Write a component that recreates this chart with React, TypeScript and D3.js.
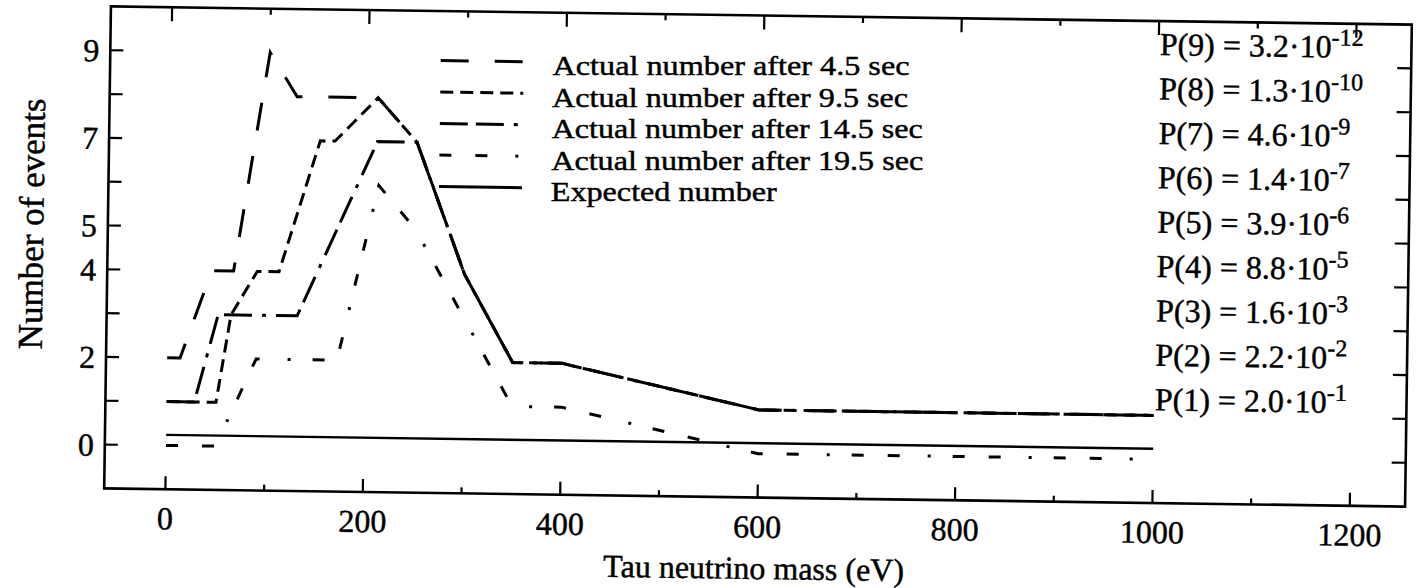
import React from 'react';
import * as d3 from 'd3';

// ---- data ----
const sec45X = [0, 13, 44, 66, 100, 128, 210, 250, 300, 350, 400, 600, 1000];
const sec45Y = [2, 2, 4, 4, 9, 8, 8, 7, 4, 2, 2, 1, 1];

const sec95X = [0, 50, 64, 90, 112, 152, 167, 210, 250, 300, 350, 400, 600, 1000];
const sec95Y = [1, 1, 3, 4, 4, 7, 7, 8, 7, 4, 2, 2, 1, 1];

const sec145X = [0, 28, 51, 131, 210, 250, 300, 350, 400, 600, 1000];
const sec145Y = [1, 1, 3, 3, 7, 7, 4, 2, 2, 1, 1];

const sec195X = [0, 50, 90, 172, 212, 250, 350, 400, 600, 1000];
const sec195Y = [0, 0, 2, 2, 6, 5, 1, 1, 0, 0];

const expectedX = [0, 1000];
const expectedY = [0.24, 0.24];

const legendLabels = [
  'Actual number after 4.5 sec',
  'Actual number after 9.5 sec',
  'Actual number after 14.5 sec',
  'Actual number after 19.5 sec',
  'Expected number',
];
const legendTextWidths = [357, 356, 371, 372, 226];
const dashPatterns = ['28 26', '13 7', '28 8 28 10 4 10', '12 24 12 28 3 22', 'none'];

const pCounts = [9, 8, 7, 6, 5, 4, 3, 2, 1];
const pMantissas = ['3.2', '1.3', '4.6', '1.4', '3.9', '8.8', '1.6', '2.2', '2.0'];
const pExponents = ['-12', '-10', '-9', '-7', '-6', '-5', '-3', '-2', '-1'];

const xTickLabels = [0, 200, 400, 600, 800, 1000, 1200];
const xTicksAll = [0, 100, 200, 300, 400, 500, 600, 700, 800, 900, 1000, 1100, 1200];
const yTickLabels = [0, 2, 4, 5, 7, 9];
const yTicksAll = [0, 1, 2, 3, 4, 5, 6, 7, 8, 9];

const FONT = '"Liberation Serif", "Times New Roman", Times, serif';

export default function App() {
  const W = 1420;
  const H = 588;
  const left = 107.5, right = 1408.5, top = 15.5, bottom = 497.5;
  const x = d3.scaleLinear().domain([-62, 1256]).range([left, right]);
  const y = d3.scaleLinear().domain([-1, 10]).range([bottom, top]);

  // slight tilt of the scanned page
  const ANG = 0.8;
  const CX = 758, CY = 256.5;
  const rad = (ANG * Math.PI) / 180;
  const rot = (ux: number, uy: number): [number, number] => [
    CX + (ux - CX) * Math.cos(rad) - (uy - CY) * Math.sin(rad),
    CY + (ux - CX) * Math.sin(rad) + (uy - CY) * Math.cos(rad),
  ];

  const line = d3
    .line<[number, number]>()
    .x((d) => x(d[0]))
    .y((d) => y(d[1]));

  const zip = (xs: number[], ys: number[]): [number, number][] => xs.map((v, i) => [v, ys[i]]);

  const series = [
    zip(sec45X, sec45Y),
    zip(sec95X, sec95Y),
    zip(sec145X, sec145Y),
    zip(sec195X, sec195Y),
    zip(expectedX, expectedY),
  ];

  const legX0 = 438, legX1 = 521, legTextX = 550;
  const legSampleY0 = 65, legStep = 31.5, legTextOff = 11.5;

  const pX = x(1000) + 1;
  const txt = { fill: '#000', stroke: '#000', strokeWidth: 0.45 };

  return (
    <svg
      width={W}
      height={H}
      style={{ position: 'absolute', left: 0, top: 0, background: '#fff' }}
      fontFamily={FONT}
    >
      <rect x={0} y={0} width={W} height={H} fill="#fff" />
      <g transform={`rotate(${ANG} ${CX} ${CY})`}>
        {/* frame */}
        <rect
          x={left}
          y={top}
          width={right - left}
          height={bottom - top}
          fill="none"
          stroke="#000"
          strokeWidth={2.6}
        />
        {/* x ticks bottom & top */}
        {xTicksAll.map((t) => {
          const major = t % 200 === 0;
          return (
            <g key={'xt' + t}>
              <line x1={x(t)} x2={x(t)} y1={bottom} y2={bottom - (major ? 13 : 6)} stroke="#000" strokeWidth={2.2} />
              <line x1={x(t)} x2={x(t)} y1={top} y2={top + (major ? 14 : 6)} stroke="#000" strokeWidth={2.2} />
            </g>
          );
        })}
        {/* y ticks left & right */}
        {yTicksAll.map((t) => (
          <g key={'yt' + t}>
            <line x1={left} x2={left + 13} y1={y(t)} y2={y(t)} stroke="#000" strokeWidth={2.2} />
            <line x1={right} x2={right - 14} y1={y(t)} y2={y(t)} stroke="#000" strokeWidth={2.2} />
          </g>
        ))}
        {/* tick labels */}
        {xTickLabels.map((t) => (
          <text key={'xl' + t} x={x(t)} y={537.5} fontSize={32} textAnchor="middle" {...txt}>
            {t}
          </text>
        ))}
        {yTickLabels.map((t) => (
          <text key={'yl' + t} x={left - 11} y={y(t)} dy="0.35em" fontSize={32} textAnchor="end" {...txt}>
            {t}
          </text>
        ))}
        {/* axis titles */}
        <text x={(left + right) / 2} y={579} fontSize={32} textAnchor="middle" {...txt}>
          Tau neutrino mass (eV)
        </text>
        <text transform={`translate(43, 234) rotate(-90)`} fontSize={35} textAnchor="middle" {...txt}>
          Number of events
        </text>

        {/* data lines */}
        {series.map((s, i) => (
          <path
            key={'s' + i}
            d={line(s) || ''}
            fill="none"
            stroke="#000"
            strokeWidth={i === 4 ? 2.4 : 3}
            strokeDasharray={dashPatterns[i] === 'none' ? undefined : dashPatterns[i]}
            strokeLinejoin="miter"
          />
        ))}

        {/* legend samples */}
        {legendLabels.map((lab, i) => {
          const yy = legSampleY0 + i * legStep;
          return (
            <line
              key={'lgs' + i}
              x1={legX0}
              x2={legX1}
              y1={yy}
              y2={yy}
              stroke="#000"
              strokeWidth={3}
              strokeDasharray={dashPatterns[i] === 'none' ? undefined : dashPatterns[i]}
            />
          );
        })}

        {/* probability labels */}
        {pCounts.map((n, i) => (
          <text key={'p' + n} x={pX} y={49.5 + i * 44.4} fontSize={32} {...txt}>
            {`P(${n}) = ${pMantissas[i]}\u00b710`}
            <tspan dy={-12} fontSize={24}>
              {pExponents[i]}
            </tspan>
          </text>
        ))}
      </g>

      {/* legend texts (placed at tilted positions, kept level to stay apart) */}
      {legendLabels.map((lab, i) => {
        const [tx, ty] = rot(legTextX, legSampleY0 + i * legStep + legTextOff);
        return (
          <text
            key={'lgt' + i}
            x={tx}
            y={ty + 1.5}
            fontSize={27.5}
            textLength={legendTextWidths[i]}
            lengthAdjust="spacingAndGlyphs"
            {...txt}
          >
            {lab}
          </text>
        );
      })}
    </svg>
  );
}
